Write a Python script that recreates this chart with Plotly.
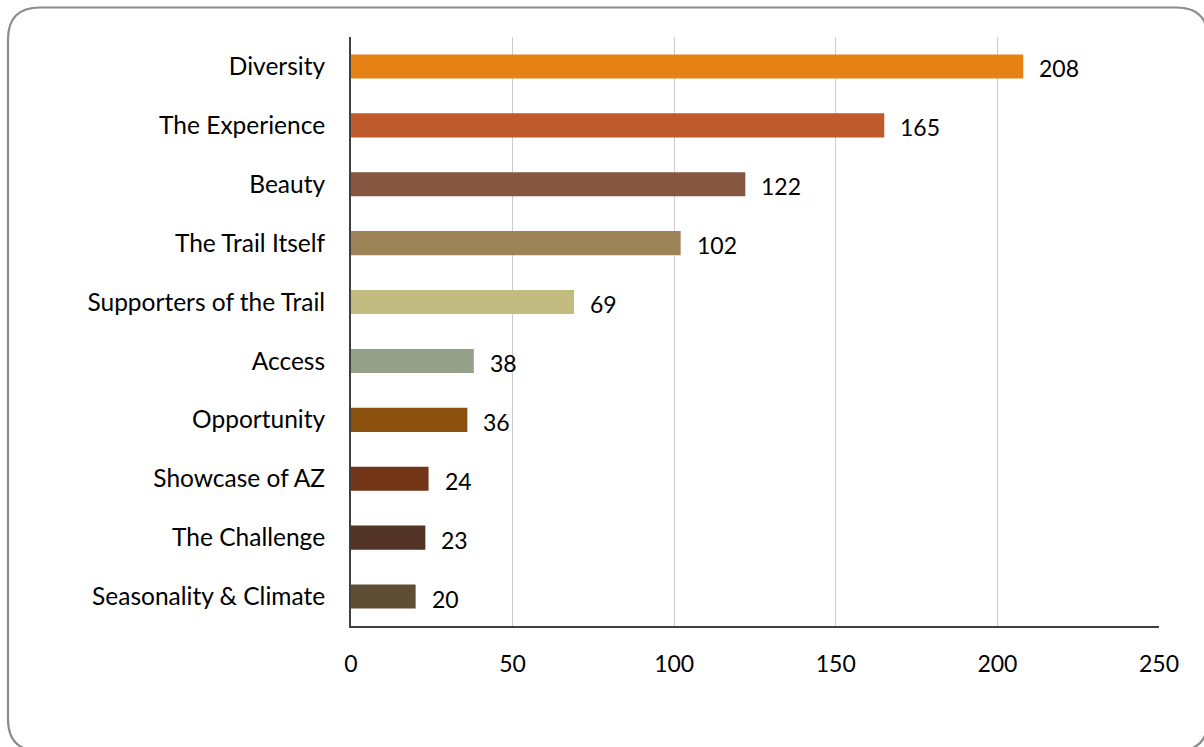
import plotly.graph_objects as go

categories = ["Diversity", "The Experience", "Beauty", "The Trail Itself",
              "Supporters of the Trail", "Access", "Opportunity",
              "Showcase of AZ", "The Challenge", "Seasonality & Climate"]
values = [208, 165, 122, 102, 69, 38, 36, 24, 23, 20]
colors = ["#E48213", "#BE5A2C", "#865640", "#9C8458", "#C2BC80",
          "#96A189", "#8B500E", "#723518", "#523326", "#5E4F34"]
x_ticks = [0, 50, 100, 150, 200, 250]

W, H = 1204, 747
L, R, T, B = 351, 45, 37, 121
pw, ph = W - L - R, H - T - B

FONT = "Lato"

fig = go.Figure()
fig.add_trace(go.Bar(
    y=categories, x=values, orientation="h",
    marker=dict(color=colors, line=dict(width=0)),
    width=0.41, hoverinfo="x+y",
))

for c, v in zip(categories, values):
    fig.add_annotation(x=v, y=c, xref="x", yref="y", text=str(v),
                       showarrow=False, xanchor="left", xshift=14, yshift=-2,
                       font=dict(family=FONT, size=23, color="#000000"))

# rounded border in pixels converted to paper coords
def px(xp):
    return (xp - L) / pw
def py(yp):
    return 1 - (yp - T) / ph

x0, y0, x1, y1, r = 8, 7.5, 1208, 751, 32
path = (f"M {px(x0+r)},{py(y0)} L {px(x1-r)},{py(y0)} "
        f"Q {px(x1)},{py(y0)} {px(x1)},{py(y0+r)} "
        f"L {px(x1)},{py(y1-r)} Q {px(x1)},{py(y1)} {px(x1-r)},{py(y1)} "
        f"L {px(x0+r)},{py(y1)} Q {px(x0)},{py(y1)} {px(x0)},{py(y1-r)} "
        f"L {px(x0)},{py(y0+r)} Q {px(x0)},{py(y0)} {px(x0+r)},{py(y0)} Z")
fig.add_shape(type="path", path=path, xref="paper", yref="paper",
              line=dict(color="#8C8C8C", width=2.2), layer="below")

fig.update_layout(
    width=W, height=H,
    margin=dict(l=L, r=R, t=T, b=B, pad=0),
    paper_bgcolor="white", plot_bgcolor="white",
    showlegend=False,
    font=dict(family=FONT, size=23, color="#000000"),
    xaxis=dict(range=[0, 250], tickvals=x_ticks, showgrid=True,
               gridcolor="#CCCCCC", gridwidth=1.3, zeroline=False,
               showline=True, linecolor="#404040", linewidth=2,
               ticks="", ticklabelstandoff=16,
               tickfont=dict(family=FONT, size=23, color="#000000"),
               fixedrange=True),
    yaxis=dict(categoryorder="array", categoryarray=categories,
               autorange="reversed", showgrid=False, zeroline=False,
               showline=True, linecolor="#404040", linewidth=2,
               ticks="", ticklabelstandoff=19,
               tickfont=dict(family=FONT, size=24.5, color="#000000"),
               fixedrange=True),
    bargap=0.59,
)

fig.write_html("out.html", config={"displayModeBar": False},
               post_script="document.body.style.margin='0';"
                           "document.body.style.overflow='hidden';")
